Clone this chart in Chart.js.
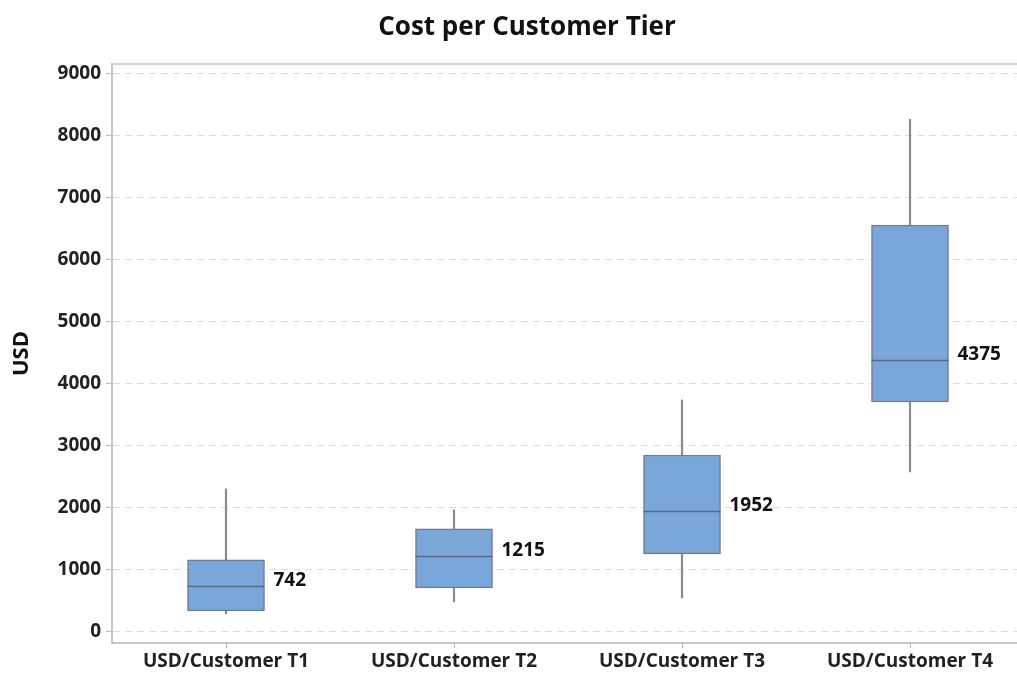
<!DOCTYPE html>
<html>
<head>
<meta charset="utf-8">
<script src="https://cdn.jsdelivr.net/npm/chart.js@4"></script>
<style>
  html, body { margin: 0; padding: 0; background: #fff; overflow: hidden; }
  #wrap { width: 1024px; height: 674px; }
</style>
</head>
<body>
<div id="wrap"><canvas id="myChart"></canvas></div>
<script>
// box plot values
const tiers = ['USD/Customer T1', 'USD/Customer T2', 'USD/Customer T3', 'USD/Customer T4'];
const mins = [290, 483, 547, 2576];
const q1s = [338, 708, 1256, 3704];
const medians = [742, 1215, 1952, 4375];
const q3s = [1159, 1658, 2850, 6554];
const maxs = [2303, 1965, 3736, 8260];
const yTicks = [0, 1000, 2000, 3000, 4000, 5000, 6000, 7000, 8000, 9000];

const FONT = '"Open Sans", "DejaVu Sans", sans-serif';
const TITLE = 'Cost per Customer Tier';

// title, median lines, median labels, top frame
const medianPlugin = {
  id: 'medians',
  afterDatasetsDraw(chart) {
    const ctx = chart.ctx;
    const y = chart.scales.y;
    const boxes = chart.getDatasetMeta(1).data;
    ctx.save();
    boxes.forEach((bar, i) => {
      const py = Math.round(y.getPixelForValue(medians[i])) + 0.5;
      const half = bar.width / 2;
      ctx.strokeStyle = '#5a6a7c';
      ctx.lineWidth = 1.5;
      ctx.beginPath();
      ctx.moveTo(bar.x - half, py);
      ctx.lineTo(bar.x + half, py);
      ctx.stroke();
      ctx.fillStyle = '#111';
      ctx.font = 'bold 19px ' + FONT;
      ctx.textAlign = 'left';
      ctx.textBaseline = 'middle';
      ctx.fillText(String(medians[i]), bar.x + half + 9, py - 6);
    });
    const a = chart.chartArea;
    ctx.strokeStyle = '#d0d0d0';
    ctx.lineWidth = 2;
    ctx.beginPath();
    ctx.moveTo(a.left, a.top);
    ctx.lineTo(a.right, a.top);
    ctx.stroke();

    ctx.fillStyle = '#111';
    ctx.font = 'bold 26px ' + FONT;
    ctx.textAlign = 'center';
    ctx.textBaseline = 'middle';
    ctx.fillText(TITLE, 527, 28);
    ctx.restore();
  }
};

const ctx = document.getElementById('myChart').getContext('2d');
const myChart = new Chart(ctx, {
  type: 'bar',
  data: {
    labels: tiers,
    datasets: [{
      label: 'whisker',
      data: tiers.map((t, i) => [mins[i], maxs[i]]),
      backgroundColor: '#8a8a8a',
      barThickness: 1.5,
      grouped: false,
      order: 2
    }, {
      label: 'box',
      data: tiers.map((t, i) => [q1s[i], q3s[i]]),
      backgroundColor: '#7ba6d9',
      borderColor: '#6c7e95',
      borderWidth: 1.5,
      borderSkipped: false,
      barThickness: 77,
      grouped: false,
      order: 1
    }]
  },
  options: {
    responsive: true,
    maintainAspectRatio: false,
    animation: false,
    layout: { padding: { left: 0, right: 0, top: 64, bottom: 0 } },
    plugins: {
      legend: { display: false },
      tooltip: { enabled: false },
      title: { display: false }
    },
    scales: {
      x: {
        offset: true,
        grid: { offset: false, drawOnChartArea: false, drawTicks: true, tickLength: 5, color: '#bbb' },
        border: { display: true, color: '#c8c8c8', width: 2 },
        ticks: { color: '#222', padding: 2, font: { family: FONT, size: 19, weight: 'bold' } },
        afterFit(s) { s.height = 31; }
      },
      y: {
        min: -180,
        max: 9150,
        afterBuildTicks(s) { s.ticks = yTicks.map(v => ({ value: v })); },
        ticks: {
          color: '#222',
          padding: 5,
          font: { family: FONT, size: 19, weight: 'bold' },
          callback: v => String(v)
        },
        grid: { color: '#dcdcdc', tickLength: 6, tickColor: '#bbb', tickBorderDash: [] },
        border: { display: true, color: '#c8c8c8', width: 2, dash: [7, 5] },
        title: {
          display: true,
          text: 'USD',
          color: '#111',
          font: { family: FONT, size: 22, weight: 'bold' },
          padding: { top: 9, bottom: 0 }
        },
        afterFit(s) { s.width = 112; }
      }
    }
  },
  plugins: [medianPlugin]
});
</script>
</body>
</html>
